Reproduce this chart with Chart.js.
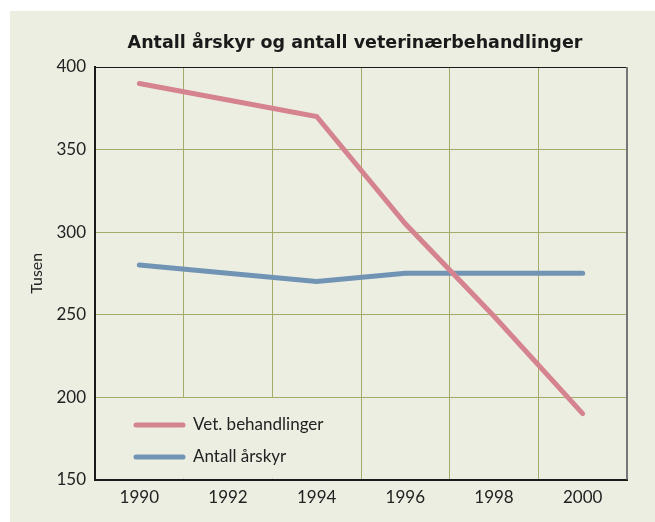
<!DOCTYPE html>
<html>
<head>
<meta charset="utf-8">
<script src="https://cdn.jsdelivr.net/npm/chart.js@4"></script>
<style>
  html, body { margin: 0; padding: 0; background: #fff; }
  #panel { position: absolute; left: 10px; top: 11px; width: 645px; height: 511px; background: #eceee2; }
  #chart { position: absolute; left: 0; top: 0; }
</style>
</head>
<body>
<div id="panel"></div>
<canvas id="chart" width="655" height="522"></canvas>
<script>
// Data
const years = [1990, 1992, 1994, 1996, 1998, 2000];
const vetBehandlinger = [390, 380, 370, 305, 249, 190];
const antallArskyr = [280, 275, 270, 275, 275, 275];
const yTicks = [150, 200, 250, 300, 350, 400];
const chartTitle = 'Antall årskyr og antall veterinærbehandlinger';

const bg = '#eceee2';
const gridColor = '#a5aa68';
const pink = '#d4838f';
const blue = '#7294b4';
const tickFont = { family: 'Lato', size: 17 };

function toPoints(vals) {
    return years.map((y, i) => ({ x: y, y: vals[i] }));
}

// title, legend box inside the plot and the frame around it
const framePlugin = {
    id: 'frame',
    beforeDatasetsDraw(chart) {
        const { ctx, chartArea: a } = chart;
        const x = chart.scales.x;
        const y = chart.scales.y;
        ctx.save();
        // legend box hides the grid below the 200 line
        ctx.fillStyle = bg;
        const l = a.left + 1, t = y.getPixelForValue(200) + 1;
        ctx.fillRect(l, t, x.getPixelForValue(1995) - 1 - l, a.bottom - 1 - t);

        const items = [
            { label: 'Vet. behandlinger', color: pink },
            { label: 'Antall årskyr', color: blue }
        ];
        ctx.lineCap = 'round';
        ctx.lineWidth = 5;
        ctx.font = '17px Lato';
        ctx.textBaseline = 'middle';
        items.forEach((it, i) => {
            const py = [425, 457][i];
            ctx.strokeStyle = it.color;
            ctx.beginPath();
            ctx.moveTo(136, py);
            ctx.lineTo(183, py);
            ctx.stroke();
            ctx.fillStyle = '#222';
            ctx.fillText(it.label, 193, py);
        });
        ctx.restore();
    },
    afterDraw(chart) {
        const { ctx, chartArea: a } = chart;
        ctx.save();
        ctx.lineWidth = 1;
        ctx.strokeStyle = '#1a1a1a';
        ctx.beginPath();
        ctx.moveTo(a.left, a.top + 0.5);
        ctx.lineTo(a.right, a.top + 0.5);
        ctx.stroke();
        ctx.lineWidth = 2;
        ctx.strokeStyle = '#777';
        ctx.beginPath();
        ctx.moveTo(a.right, a.top);
        ctx.lineTo(a.right, a.bottom);
        ctx.stroke();

        ctx.fillStyle = '#1a1a1a';
        ctx.font = 'bold 17.5px "DejaVu Sans"';
        ctx.textAlign = 'center';
        ctx.textBaseline = 'middle';
        ctx.fillText(chartTitle, 355, 43);
        ctx.restore();
    }
};

new Chart(document.getElementById('chart'), {
    type: 'line',
    data: {
        datasets: [
            {
                label: 'Vet. behandlinger',
                data: toPoints(vetBehandlinger),
                borderColor: pink,
                borderWidth: 5,
                borderCapStyle: 'round',
                pointRadius: 0,
                tension: 0
            },
            {
                label: 'Antall årskyr',
                data: toPoints(antallArskyr),
                borderColor: blue,
                borderWidth: 5,
                borderCapStyle: 'round',
                pointRadius: 0,
                tension: 0
            }
        ]
    },
    options: {
        responsive: false,
        animation: false,
        layout: { padding: { left: 24, right: 28, top: 67, bottom: 6 } },
        plugins: {
            legend: { display: false },
            tooltip: { enabled: false },
            title: { display: false }
        },
        scales: {
            x: {
                type: 'linear',
                min: 1989,
                max: 2001,
                afterBuildTicks(scale) {
                    const t = [];
                    for (let v = 1989; v <= 2001; v++) t.push({ value: v });
                    scale.ticks = t;
                },
                ticks: {
                    autoSkip: false,
                    maxRotation: 0,
                    padding: 8,
                    color: '#222',
                    font: tickFont,
                    callback: (v) => (v % 2 === 0 ? String(v) : '')
                },
                grid: {
                    drawTicks: false,
                    lineWidth: 1,
                    color: (c) => (c.tick && c.tick.value % 2 === 1 && c.tick.value > 1989 && c.tick.value < 2001 ? gridColor : 'transparent')
                },
                border: { color: '#1a1a1a', width: 2 }
            },
            y: {
                min: 150,
                max: 400,
                afterBuildTicks(scale) {
                    scale.ticks = yTicks.map((v) => ({ value: v }));
                },
                afterFit(scale) {
                    scale.width = 71;
                },
                ticks: {
                    padding: 9,
                    color: '#222',
                    font: tickFont
                },
                title: {
                    display: true,
                    text: 'Tusen',
                    color: '#222',
                    font: { family: 'Lato', size: 16 },
                    padding: { top: 3, bottom: 0 }
                },
                grid: {
                    drawTicks: false,
                    lineWidth: 1,
                    color: (c) => (c.tick && c.tick.value > 150 && c.tick.value < 400 ? gridColor : 'transparent')
                },
                border: { color: '#1a1a1a', width: 2 }
            }
        }
    },
    plugins: [framePlugin]
});
</script>
</body>
</html>
